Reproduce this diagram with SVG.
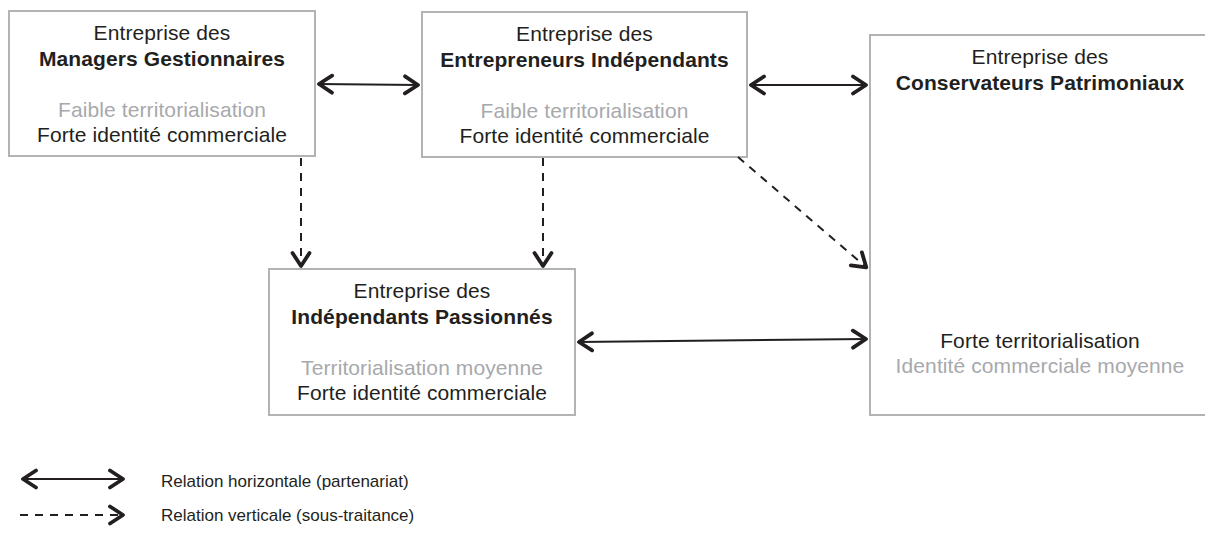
<svg xmlns="http://www.w3.org/2000/svg" width="1205" height="534" viewBox="0 0 1205 534">
<style>
.box{fill:#fff;stroke:#b3b3b5;stroke-width:2}
text{font-family:"Liberation Sans",Arial,Helvetica,sans-serif;font-size:21px;letter-spacing:0.1px;fill:#231f20;text-anchor:middle}
.b{font-weight:bold}
.g{fill:#a7a9ac}
.leg{font-size:17px;letter-spacing:0;text-anchor:start}
.sol{fill:none;stroke:#231f20;stroke-width:2}
.dash{fill:none;stroke:#231f20;stroke-width:2;stroke-dasharray:8 7}
</style>
<defs>
<marker id="chev" viewBox="-18 -11 22 22" refX="0" refY="0" markerWidth="22" markerHeight="22" markerUnits="userSpaceOnUse" orient="auto-start-reverse">
<path d="M-14,-8.5 L-1,0 L-14,8.5" fill="none" stroke="#231f20" stroke-width="3.8" stroke-linecap="round" stroke-linejoin="round" stroke-dasharray="none"/>
</marker>
</defs>
<rect width="1205" height="534" fill="#fff"/>
<g id="n-managers">
<rect class="box" x="9" y="11" width="306" height="145"/>
<text x="162" y="40">Entreprise des</text>
<text class="b" x="162" y="66">Managers Gestionnaires</text>
<text class="g" x="162" y="117">Faible territorialisation</text>
<text x="162" y="142">Forte identité commerciale</text>
</g>
<g id="n-entrepreneurs">
<rect class="box" x="422" y="12" width="325" height="145"/>
<text x="584.5" y="41">Entreprise des</text>
<text class="b" x="584.5" y="67">Entrepreneurs Indépendants</text>
<text class="g" x="584.5" y="118">Faible territorialisation</text>
<text x="584.5" y="143">Forte identité commerciale</text>
</g>
<g id="n-conservateurs">
<rect class="box" x="870" y="35" width="345" height="380"/>
<text x="1040" y="64">Entreprise des</text>
<text class="b" x="1040" y="90">Conservateurs Patrimoniaux</text>
<text x="1040" y="348">Forte territorialisation</text>
<text class="g" x="1040" y="373">Identité commerciale moyenne</text>
</g>
<g id="n-passionnes">
<rect class="box" x="269" y="269" width="306" height="146"/>
<text x="422" y="298">Entreprise des</text>
<text class="b" x="422" y="324">Indépendants Passionnés</text>
<text class="g" x="422" y="375">Territorialisation moyenne</text>
<text x="422" y="400">Forte identité commerciale</text>
</g>
<g id="connectors">
<line class="sol" x1="318" y1="84" x2="419" y2="85" marker-start="url(#chev)" marker-end="url(#chev)"/>
<line class="sol" x1="750" y1="85" x2="867" y2="85" marker-start="url(#chev)" marker-end="url(#chev)"/>
<line class="sol" x1="578" y1="342" x2="867" y2="339" marker-start="url(#chev)" marker-end="url(#chev)"/>
<line class="dash" x1="301" y1="158" x2="301" y2="267" marker-end="url(#chev)"/>
<line class="dash" x1="543" y1="158" x2="543" y2="267" marker-end="url(#chev)"/>
<line class="dash" x1="738" y1="157" x2="867" y2="268" marker-end="url(#chev)"/>
</g>
<g id="legend">
<line class="sol" x1="22" y1="479" x2="124" y2="479" marker-start="url(#chev)" marker-end="url(#chev)"/>
<line class="dash" x1="20" y1="515" x2="124" y2="515" marker-end="url(#chev)"/>
<text class="leg" x="161" y="487">Relation horizontale (partenariat)</text>
<text class="leg" x="161" y="521">Relation verticale (sous-traitance)</text>
</g>
</svg>
